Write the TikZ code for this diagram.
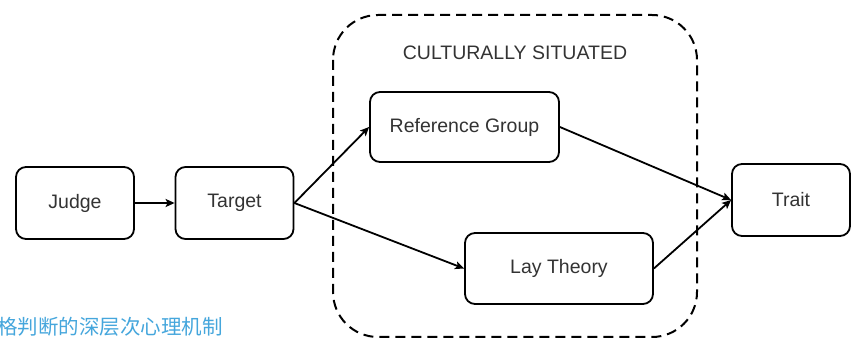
\documentclass[tikz,border=0pt]{standalone}
\usepackage{fontspec}
\setmainfont{Liberation Sans}
\newfontfamily\cjk{Noto Sans CJK SC}
\usetikzlibrary{arrows.meta}
\definecolor{txt}{HTML}{333333}
\definecolor{wm}{HTML}{45A6DC}
\begin{document}
\begin{tikzpicture}[x=1pt,y=-1pt,
  box/.style={draw=black,line width=1.8pt,rounded corners=10pt,fill=white,
    minimum width=#1,text=txt,font=\fontsize{19.5}{22}\selectfont,inner sep=0pt},
  box/.default=118pt,
  conn/.style={line width=1.8pt,-{Stealth[length=9pt,width=8pt,inset=2pt]}},
]
\useasboundingbox (0,0) rectangle (863,339);
\begin{scope}
\clip (0,0) rectangle (863,339);
\draw[line width=2pt,dash pattern=on 10pt off 6pt,rounded corners=45pt]
  (333,15) rectangle (697,337);
\node[font=\cjk\fontsize{20.5}{22}\selectfont,text=wm,anchor=base west,inner sep=0pt]
  (wmark) at (-3,335) {格判断的深层次心理机制};
\end{scope}
\node[text=txt,font=\fontsize{19.5}{22}\selectfont] (cult) at (515,53) {CULTURALLY SITUATED};
\node[box,minimum height=72pt] (judge) at (75,203) {Judge};
\node[box,minimum height=72pt] (target) at (234.5,203) {Target};
\node[box=189pt,minimum height=70pt] (ref) at (464.5,127) {Reference Group};
\node[box=188pt,minimum height=71pt] (lay) at (559,268.5) {Lay Theory};
\node[box,minimum height=72pt] (trait) at (791,200) {Trait};
\draw[conn,line width=2.6pt] (judge) -- (target);
\draw[conn] (target.east) -- (ref.west);
\draw[conn] (target.east) -- (lay.west);
\draw[conn] (ref.east) -- (trait.west);
\draw[conn] (lay.east) -- (trait.west);
\end{tikzpicture}
\end{document}
